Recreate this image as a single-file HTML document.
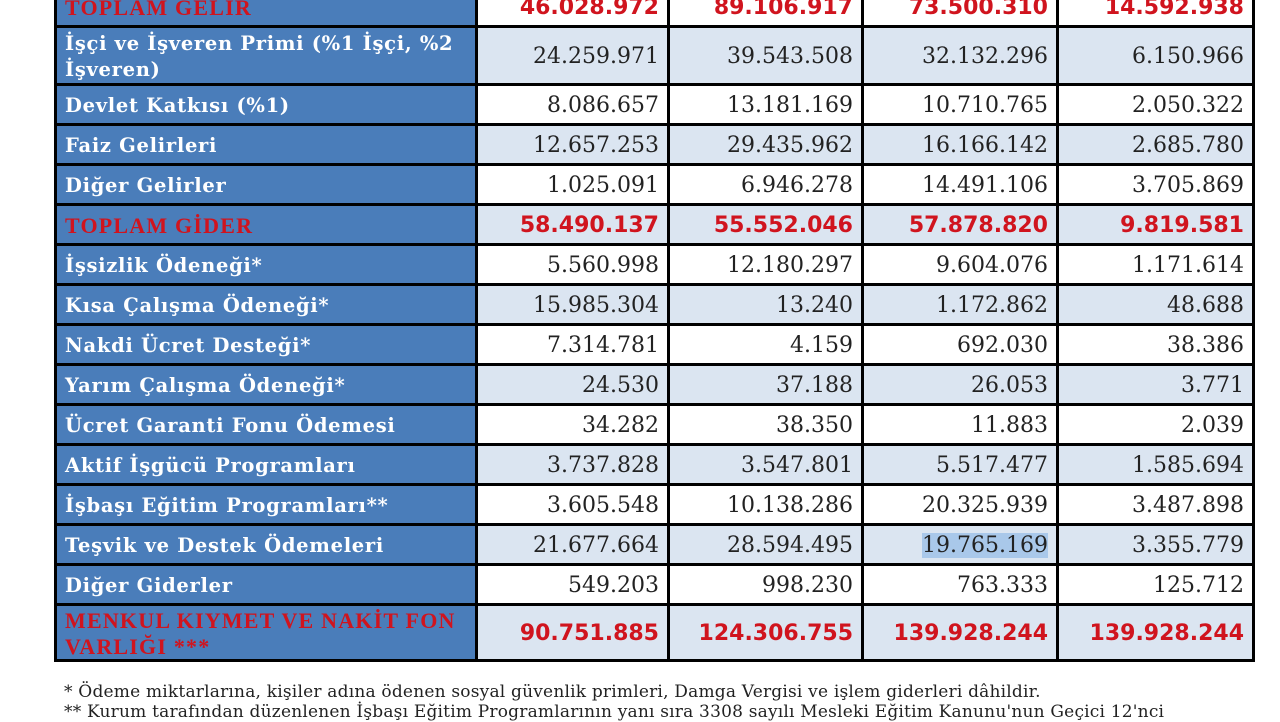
<!DOCTYPE html>
<html><head><meta charset="utf-8"><style>
body{margin:0;width:1280px;height:720px;background:#fff;overflow:hidden;position:relative}
.g{position:absolute;left:54px;top:-15px;padding:3px;background:#000;display:grid;gap:3px;
grid-template-columns:418px 189px 191px 192px 193px;
grid-template-rows:37px 55px repeat(13,37px) 53px}
.g div{background:#fff;display:flex;align-items:center;justify-content:flex-end;padding-right:8px;padding-top:2px;
font-family:"DejaVu Serif","Liberation Serif",serif;font-size:22px;color:#222}
.g div.l{background:#4a7dba;color:#fff;justify-content:flex-start;padding:3px 0 0 8px;font-weight:bold;font-size:19.5px;letter-spacing:0.7px;line-height:26px}
.g div.b{background:#dbe5f1}
.g div.l.r{color:#d0141e;font-family:"Liberation Serif",serif;font-size:22px;font-weight:900;letter-spacing:1.2px}
.g div.t{color:#d0141e;font-family:"DejaVu Sans",sans-serif;font-weight:bold;font-size:22px}
.sel{background:#a9c8ea}
.f{position:absolute;left:64px;font-family:"DejaVu Serif","Liberation Serif",serif;font-size:17px;letter-spacing:0.2px;color:#222;white-space:nowrap}
</style></head><body>
<div class="g">
<div class="l r">TOPLAM GELİR</div><div class="t">46.028.972</div><div class="t">89.106.917</div><div class="t">73.500.310</div><div class="t">14.592.938</div>
<div class="l">İşçi ve İşveren Primi (%1 İşçi, %2 İşveren)</div><div class="b">24.259.971</div><div class="b">39.543.508</div><div class="b">32.132.296</div><div class="b">6.150.966</div>
<div class="l">Devlet Katkısı (%1)</div><div>8.086.657</div><div>13.181.169</div><div>10.710.765</div><div>2.050.322</div>
<div class="l">Faiz Gelirleri</div><div class="b">12.657.253</div><div class="b">29.435.962</div><div class="b">16.166.142</div><div class="b">2.685.780</div>
<div class="l">Diğer Gelirler</div><div>1.025.091</div><div>6.946.278</div><div>14.491.106</div><div>3.705.869</div>
<div class="l r">TOPLAM GİDER</div><div class="b t">58.490.137</div><div class="b t">55.552.046</div><div class="b t">57.878.820</div><div class="b t">9.819.581</div>
<div class="l">İşsizlik Ödeneği*</div><div>5.560.998</div><div>12.180.297</div><div>9.604.076</div><div>1.171.614</div>
<div class="l">Kısa Çalışma Ödeneği*</div><div class="b">15.985.304</div><div class="b">13.240</div><div class="b">1.172.862</div><div class="b">48.688</div>
<div class="l">Nakdi Ücret Desteği*</div><div>7.314.781</div><div>4.159</div><div>692.030</div><div>38.386</div>
<div class="l">Yarım Çalışma Ödeneği*</div><div class="b">24.530</div><div class="b">37.188</div><div class="b">26.053</div><div class="b">3.771</div>
<div class="l">Ücret Garanti Fonu Ödemesi</div><div>34.282</div><div>38.350</div><div>11.883</div><div>2.039</div>
<div class="l">Aktif İşgücü Programları</div><div class="b">3.737.828</div><div class="b">3.547.801</div><div class="b">5.517.477</div><div class="b">1.585.694</div>
<div class="l">İşbaşı Eğitim Programları**</div><div>3.605.548</div><div>10.138.286</div><div>20.325.939</div><div>3.487.898</div>
<div class="l">Teşvik ve Destek Ödemeleri</div><div class="b">21.677.664</div><div class="b">28.594.495</div><div class="b"><span class="sel">19.765.169</span></div><div class="b">3.355.779</div>
<div class="l">Diğer Giderler</div><div>549.203</div><div>998.230</div><div>763.333</div><div>125.712</div>
<div class="l r">MENKUL KIYMET VE NAKİT FON VARLIĞI ***</div><div class="b t">90.751.885</div><div class="b t">124.306.755</div><div class="b t">139.928.244</div><div class="b t">139.928.244</div>
</div>
<div class="f" style="top:682px">* Ödeme miktarlarına, kişiler adına ödenen sosyal güvenlik primleri, Damga Vergisi ve işlem giderleri dâhildir.</div>
<div class="f" style="top:702px">** Kurum tarafından düzenlenen İşbaşı Eğitim Programlarının yanı sıra 3308 sayılı Mesleki Eğitim Kanunu'nun Geçici 12'nci</div>
</body></html>
